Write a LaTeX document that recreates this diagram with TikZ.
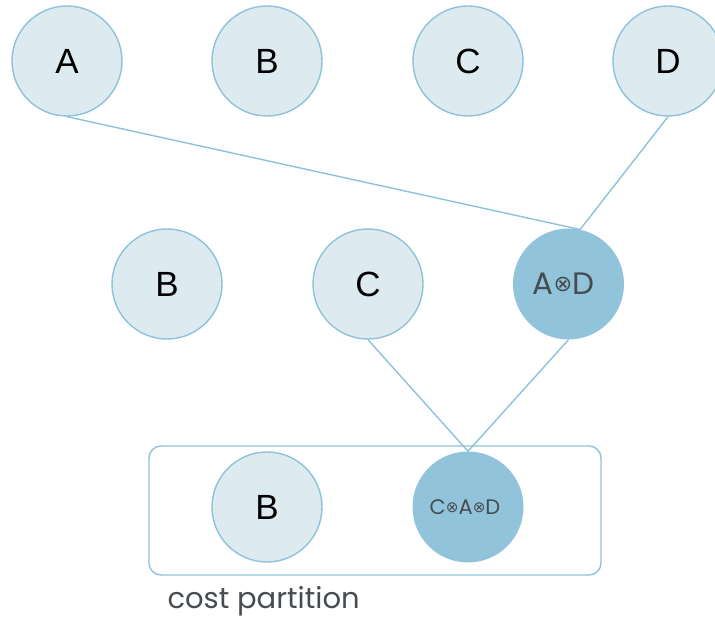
\documentclass[tikz,border=0pt]{standalone}
\usepackage{fontspec}
\setmainfont{Liberation Sans}
\newfontfamily\popfont{Poppins}
\newfontfamily\symfont{DejaVu Sans}
\definecolor{nodefill}{HTML}{DDEAF0}
\definecolor{nodeline}{HTML}{8EC2D9}
\definecolor{mergefill}{HTML}{91C3DA}
\definecolor{labeltext}{HTML}{474C51}
\newcommand{\otim}{\raisebox{0.2ex}{\symfont\scalebox{0.72}{⊗}}}
\tikzset{
  var/.style={circle, minimum size=110pt, inner sep=0pt, fill=nodefill, draw=nodeline, line width=1.4pt, font=\fontsize{35}{35}\selectfont},
  merged/.style={circle, minimum size=111pt, inner sep=0pt, fill=mergefill, draw=none, text=labeltext},
  link/.style={draw=nodeline, line width=1.4pt},
}
\begin{document}
\begin{tikzpicture}[x=1pt,y=-1pt]
\useasboundingbox (0,0) rectangle (715,620);
% cost partition container
\node[draw=nodeline, line width=1.4pt, rounded corners=12pt, minimum width=452pt, minimum height=129pt, inner sep=0pt] (part) at (375,510.5) {};
\node[anchor=west, text=labeltext, font=\popfont\fontsize{29}{29}\selectfont] (plabel) at (164,601) {cost partition};
% top row
\node[var] (A1) at (67,61) {A};
\node[var] (B1) at (267,61) {B};
\node[var] (C1) at (468,61) {C};
\node[var] (D1) at (668,61) {D};
% middle row
\node[var] (B2) at (167,284) {B};
\node[var] (C2) at (368,284) {C};
\node[merged] (AD) at (568.5,284) {};
\node[text=labeltext, font=\popfont\fontsize{31}{31}\selectfont, xshift=-5pt] (ADt) at (AD) {A\otim D};
% bottom row
\node[var] (B3) at (267,507) {B};
\node[merged] (CAD) at (468,507) {};
\node[text=labeltext, font=\popfont\fontsize{21}{21}\selectfont, xshift=-3pt] (CADt) at (CAD) {C\otim A\otim D};
% connectors
\draw[link] (A1.south) -- (AD.78);
\draw[link] (D1.south) -- (AD.78);
\draw[link] (C2.south) -- (CAD.north);
\draw[link] (AD.south) -- (CAD.north);
\end{tikzpicture}
\end{document}
